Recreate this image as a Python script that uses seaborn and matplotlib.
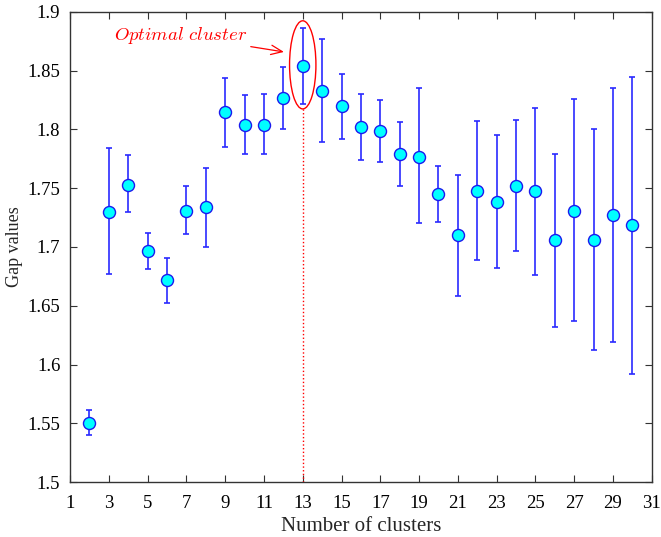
import numpy as np
import pandas as pd
import matplotlib
matplotlib.use("Agg")
import matplotlib.pyplot as plt
import seaborn as sns
from matplotlib.patches import Ellipse

clusters = list(range(2, 31))
gap_values = [1.550, 1.730, 1.753, 1.697, 1.672, 1.731, 1.734, 1.815, 1.804, 1.804,
              1.827, 1.854, 1.833, 1.820, 1.802, 1.799, 1.779, 1.777, 1.745, 1.710,
              1.748, 1.738, 1.752, 1.748, 1.706, 1.731, 1.706, 1.727, 1.719]
err_upper = [1.561, 1.784, 1.778, 1.712, 1.691, 1.752, 1.767, 1.844, 1.829, 1.830,
             1.853, 1.886, 1.877, 1.847, 1.830, 1.825, 1.806, 1.835, 1.769, 1.761,
             1.807, 1.795, 1.808, 1.818, 1.779, 1.826, 1.800, 1.835, 1.845]
err_lower = [1.540, 1.677, 1.730, 1.681, 1.652, 1.711, 1.700, 1.785, 1.779, 1.779,
             1.800, 1.822, 1.789, 1.792, 1.774, 1.772, 1.752, 1.720, 1.721, 1.658,
             1.689, 1.682, 1.697, 1.676, 1.632, 1.637, 1.612, 1.619, 1.592]
x_ticks = list(range(1, 32, 2))
y_ticks = [1.5, 1.55, 1.6, 1.65, 1.7, 1.75, 1.8, 1.85, 1.9]
y_tick_labels = ["1.5", "1.55", "1.6", "1.65", "1.7", "1.75", "1.8", "1.85", "1.9"]

df = pd.DataFrame({"k": clusters, "gap": gap_values, "hi": err_upper, "lo": err_lower})

sns.set_style("ticks")
plt.rcParams['font.family'] = ['Liberation Serif', 'DejaVu Serif']
plt.rcParams['mathtext.fontset'] = 'cm'

fig = plt.figure(figsize=(6.61, 5.37), dpi=100)
ax = fig.add_axes([0.106, 0.1024, 0.880, 0.8753])

yerr = np.vstack([df["gap"] - df["lo"], df["hi"] - df["gap"]])
ax.errorbar(df["k"], df["gap"], yerr=yerr, fmt="none", ecolor="#2a2aff",
            elinewidth=1.2, capsize=2.2, capthick=1.2, zorder=2)
sns.scatterplot(data=df, x="k", y="gap", ax=ax, s=75, color="#00ffff",
                edgecolor="#1a1aee", linewidth=1.0, zorder=3, legend=False)

# optimal cluster highlight
best = int(df.loc[df["gap"].idxmax(), "k"])
best_gap = df["gap"].max()
ell = Ellipse((best, best_gap + 0.001), width=1.36, height=0.075, fill=False,
              edgecolor="red", linewidth=1.0, zorder=4)
ax.add_patch(ell)
ax.plot([best, best], [1.5, best_gap - 0.0365], color="red", linestyle=":",
        linewidth=1.0, zorder=1)
ax.annotate(r"$\mathit{Optimal\ cluster}$", xy=(12.03, 1.866), xytext=(10.15, 1.880),
            color="red", fontsize=13.5, ha="right", va="center",
            arrowprops=dict(arrowstyle="->,head_length=0.6,head_width=0.25",
                            color="red", lw=0.9, shrinkA=0, shrinkB=0))

ax.set_xlim(1, 31)
ax.set_ylim(1.5, 1.9)
ax.set_xticks(x_ticks)
ax.set_yticks(y_ticks)
ax.set_yticklabels(y_tick_labels)
ax.tick_params(direction="in", top=True, right=True, labelsize=13.5, length=5,
               width=0.8, colors="#333333", labelcolor="black", pad=7)
ax.tick_params(axis="x", pad=9)
for sp in ax.spines.values():
    sp.set_linewidth(1.0)
    sp.set_color("#333333")
ax.set_xlabel("Number of clusters", fontsize=15, labelpad=4)
ax.set_ylabel("Gap values", fontsize=13, labelpad=3)

fig.savefig("out.png", dpi=100)
